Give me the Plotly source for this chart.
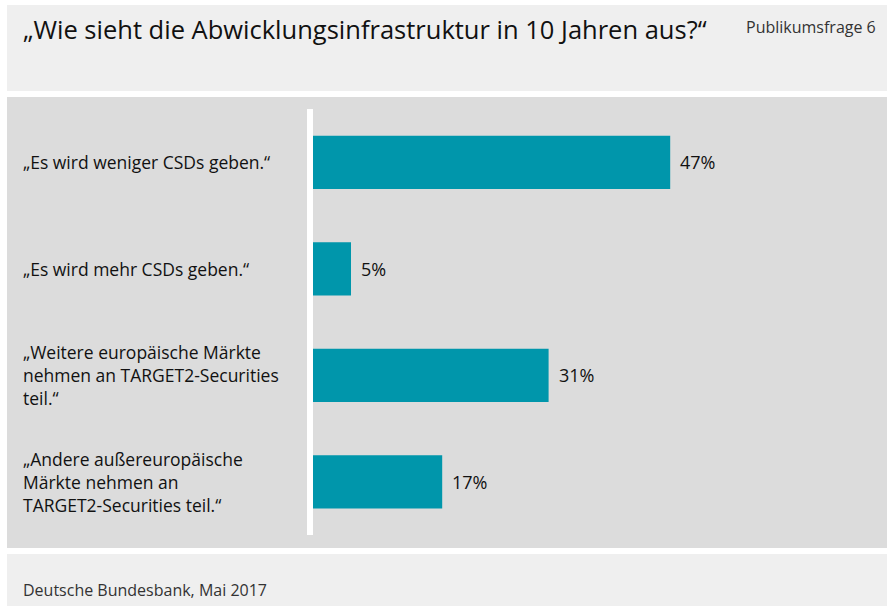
import plotly.graph_objects as go

categories = [
    "„Es wird weniger CSDs geben.“",
    "„Es wird mehr CSDs geben.“",
    "„Weitere europäische Märkte<br>nehmen an TARGET2-Securities<br>teil.“",
    "„Andere außereuropäische<br>Märkte nehmen an<br>TARGET2-Securities teil.“",
]
values = [47, 5, 31, 17]
value_labels = ["47%", "5%", "31%", "17%"]

W, H = 891, 606
L, R, T, B = 313, 880, 109, 535  # plot area in pixels
FONT = "Open Sans"
BAR = "#0096ab"
PXPER = 7.6  # pixels per percent


def px(x):
    return (x - L) / (R - L)


def py(y):
    return (B - y) / (B - T)


fig = go.Figure()
fig.add_trace(go.Bar(
    x=values, y=categories, orientation="h",
    marker=dict(color=BAR, line=dict(width=0)),
    width=0.5, hoverinfo="skip",
))

shapes = []
for (x0, y0, x1, y1, c) in [
    (7, 5, 887, 91, "#efefef"),
    (7, 97, 887, 548, "#dcdcdc"),
    (7, 554, 887, 606, "#efefef"),
]:
    shapes.append(dict(type="rect", xref="paper", yref="paper",
                       x0=px(x0), x1=px(x1), y0=py(y1), y1=py(y0),
                       fillcolor=c, line=dict(width=0), layer="below"))
# white separator line at the left of the bars
shapes.append(dict(type="line", xref="paper", yref="paper",
                   x0=px(310), x1=px(310), y0=0, y1=1,
                   line=dict(color="white", width=6), layer="above"))

annotations = []
annotations.append(dict(
    text="„Wie sieht die Abwicklungsinfrastruktur in 10 Jahren aus?“",
    xref="paper", yref="paper", x=px(21), y=py(29), xanchor="left", yanchor="middle",
    showarrow=False, font=dict(family=FONT, size=25.5, color="#111111")))
annotations.append(dict(
    text="Publikumsfrage 6",
    xref="paper", yref="paper", x=px(878), y=py(27), xanchor="right", yanchor="middle",
    showarrow=False, font=dict(family=FONT, size=16, color="#333333")))
annotations.append(dict(
    text="Deutsche Bundesbank, Mai 2017",
    xref="paper", yref="paper", x=px(21), y=py(590), xanchor="left", yanchor="middle",
    showarrow=False, font=dict(family=FONT, size=16, color="#333333")))

for c in categories:
    annotations.append(dict(
        text=c, xref="paper", yref="y", x=px(21), y=c, xanchor="left", yanchor="middle",
        align="left", showarrow=False, font=dict(family=FONT, size=17.5, color="#111111")))

for c, v, t in zip(categories, values, value_labels):
    annotations.append(dict(
        text=t, xref="x", yref="y", x=v, y=c, xanchor="left", yanchor="middle",
        xshift=8, showarrow=False, font=dict(family=FONT, size=18, color="#111111")))

span = (R - L) / PXPER
fig.update_layout(
    width=W, height=H,
    margin=dict(l=L, r=W - R, t=T, b=H - B, pad=0),
    paper_bgcolor="white", plot_bgcolor="rgba(0,0,0,0)",
    showlegend=False,
    xaxis=dict(range=[0, span], visible=False, fixedrange=True),
    yaxis=dict(range=[3.5, -0.5], showticklabels=False, ticks="", showgrid=False,
               zeroline=False, showline=False, fixedrange=True),
    shapes=shapes, annotations=annotations,
    bargap=0.5,
)

fig.write_html("out.html", config={"displayModeBar": False})
